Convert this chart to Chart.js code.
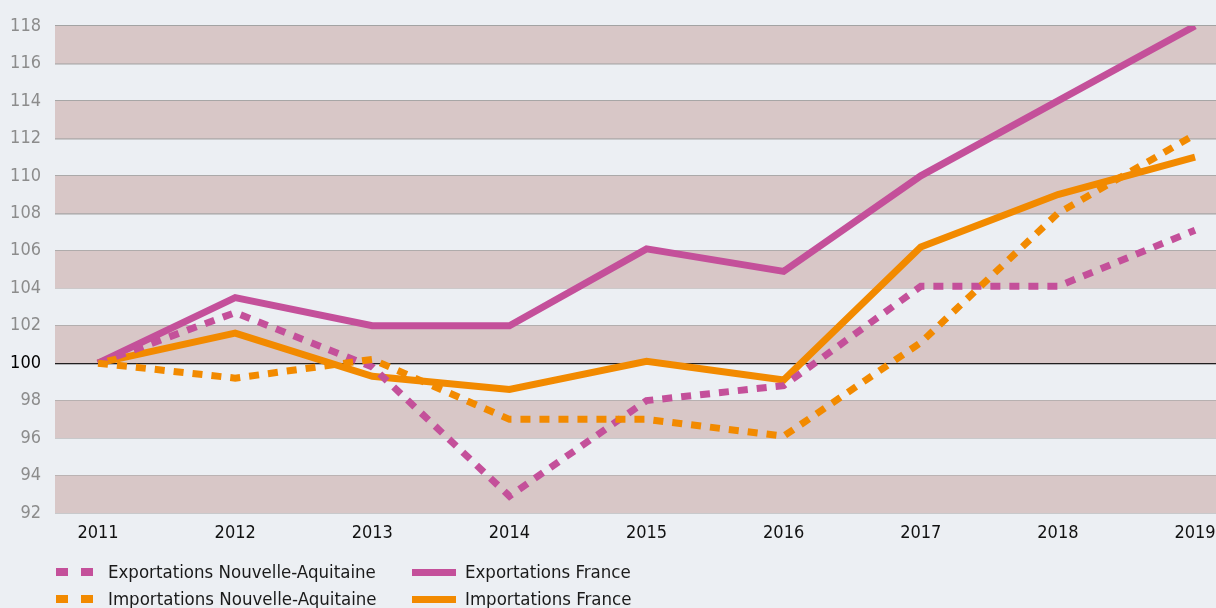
<!DOCTYPE html>
<html>
<head>
<meta charset="utf-8">
<script src="https://cdn.jsdelivr.net/npm/chart.js@4"></script>
<style>
    body { margin: 0; background: #eceff3; }
    .wrap { position: relative; width: 1216px; height: 608px; overflow: hidden; }
    .legend { position: absolute; left: 0; top: 0; font-family: "DejaVu Sans Condensed", "DejaVu Sans", sans-serif; font-size: 18.5px; color: #1a1a1a; }
    .item { position: absolute; white-space: nowrap; height: 20px; line-height: 20px; }
    .item .mk { position: absolute; top: 6px; height: 8px; }
    .item span.txt { position: absolute; top: 0; }
</style>
</head>
<body>
<div class="wrap">
    <canvas id="chart"></canvas>
    <div class="legend" id="legend"></div>
</div>
<script>
// Data
const years = [2011, 2012, 2013, 2014, 2015, 2016, 2017, 2018, 2019];
const exportNA = [100, 102.7, 99.8, 92.9, 98.0, 98.8, 104.1, 104.1, 107.1];
const exportFR = [100, 103.5, 102.0, 102.0, 106.1, 104.9, 110.0, 114.0, 118.0];
const importNA = [100, 99.2, 100.2, 97.0, 97.0, 96.1, 101.1, 108.0, 112.2];
const importFR = [100, 101.6, 99.3, 98.6, 100.1, 99.1, 106.2, 109.0, 111.0];
const yTicks = [92, 94, 96, 98, 100, 102, 104, 106, 108, 110, 112, 114, 116, 118];

const PINK = '#c4509a';
const ORANGE = '#f28a00';
const FONT = '"DejaVu Sans Condensed", "DejaVu Sans", sans-serif';

function pts(values) {
    return values.map((v, i) => ({ x: years[i], y: v }));
}

// Alternating bands behind the lines
const bandPlugin = {
    id: 'bands',
    beforeDatasetsDraw(chart) {
        const { ctx, chartArea, scales } = chart;
        const y = scales.y;
        ctx.save();
        ctx.fillStyle = '#d8c7c7';
        for (let v = 92; v < 118; v += 4) {
            const top = y.getPixelForValue(v + 2);
            const bottom = y.getPixelForValue(v);
            ctx.fillRect(chartArea.left, top, chartArea.right - chartArea.left, bottom - top);
        }
        ctx.restore();
    }
};

const ctx = document.getElementById('chart').getContext('2d');
new Chart(ctx, {
    type: 'line',
    data: {
        datasets: [
            { label: 'Importations Nouvelle-Aquitaine', data: pts(importNA), borderColor: ORANGE, borderDash: [10, 9] },
            { label: 'Exportations Nouvelle-Aquitaine', data: pts(exportNA), borderColor: PINK, borderDash: [10, 9] },
            { label: 'Importations France', data: pts(importFR), borderColor: ORANGE },
            { label: 'Exportations France', data: pts(exportFR), borderColor: PINK }
        ].map(d => Object.assign({
            borderWidth: 7,
            pointRadius: 0,
            tension: 0,
            fill: false,
            borderCapStyle: 'butt',
            borderJoinStyle: 'miter'
        }, d))
    },
    options: {
        responsive: true,
        maintainAspectRatio: false,
        animation: false,
        layout: { padding: { top: 26, right: 0, left: 0, bottom: 0 } },
        plugins: {
            legend: { display: false },
            tooltip: { enabled: false }
        },
        scales: {
            x: {
                type: 'linear',
                min: 2010.686,
                max: 2019.153,
                afterBuildTicks: scale => { scale.ticks = years.map(v => ({ value: v })); },
                afterFit: scale => {
                    scale.height = 95;
                    scale.paddingRight = 0;
                    scale.paddingLeft = 0;
                },
                grid: { display: false, drawTicks: false },
                border: { display: false },
                ticks: {
                    padding: 10,
                    color: '#111',
                    font: { family: FONT, size: 18 },
                    callback: v => String(v)
                }
            },
            y: {
                min: 92,
                max: 118,
                afterBuildTicks: scale => { scale.ticks = yTicks.map(v => ({ value: v })); },
                afterFit: scale => {
                    scale.width = 55;
                    scale.paddingTop = 0;
                    scale.paddingBottom = 0;
                },
                grid: {
                    color: c => c.tick && c.tick.value === 100 ? '#000000' : '#a3a3a3',
                    lineWidth: c => c.tick && c.tick.value === 100 ? 1.2 : 1.6,
                    drawTicks: false
                },
                border: { display: false },
                ticks: {
                    padding: 14,
                    color: c => c.tick && c.tick.value === 100 ? '#000000' : '#8c8c8c',
                    font: { family: FONT, size: 18 }
                }
            }
        }
    },
    plugins: [bandPlugin]
});

// HTML legend, two columns
const legendItems = [
    { text: 'Exportations Nouvelle-Aquitaine', color: PINK, dashed: true, x: 56, y: 562 },
    { text: 'Exportations France', color: PINK, dashed: false, x: 412, y: 562 },
    { text: 'Importations Nouvelle-Aquitaine', color: ORANGE, dashed: true, x: 56, y: 589 },
    { text: 'Importations France', color: ORANGE, dashed: false, x: 412, y: 589 }
];

function buildLegend() {
    const legend = document.getElementById('legend');
    legendItems.forEach(item => {
        const el = document.createElement('div');
        el.className = 'item';
        el.style.left = item.x + 'px';
        el.style.top = item.y + 'px';
        if (item.dashed) {
            el.innerHTML = `
                <div class="mk" style="left:0;width:12px;background:${item.color}"></div>
                <div class="mk" style="left:25px;width:12px;background:${item.color}"></div>
                <span class="txt" style="left:52px">${item.text}</span>`;
        } else {
            el.innerHTML = `
                <div class="mk" style="left:0;width:44px;top:7px;height:7px;background:${item.color}"></div>
                <span class="txt" style="left:53px">${item.text}</span>`;
        }
        legend.appendChild(el);
    });
}

buildLegend();
</script>
</body>
</html>
